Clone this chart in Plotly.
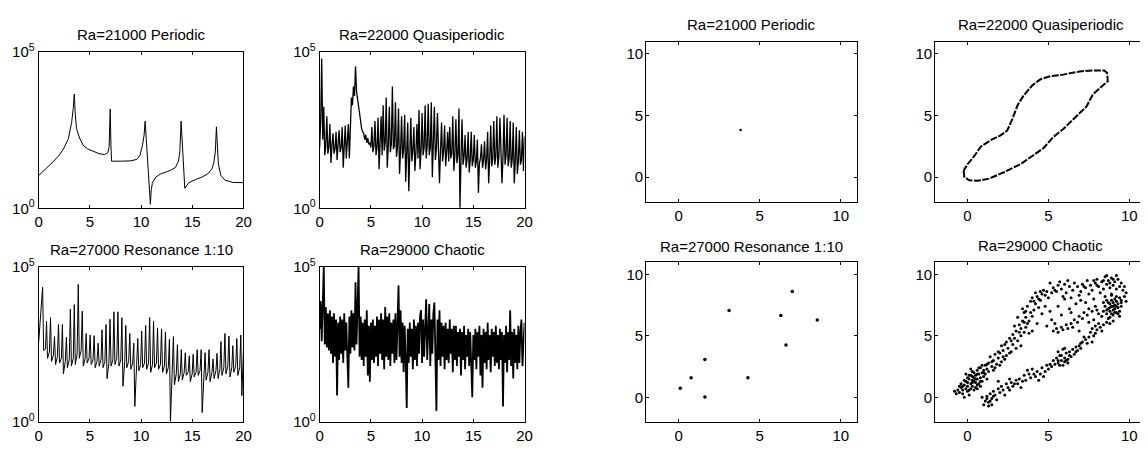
import numpy as np
import plotly.graph_objects as go

W, H = 1148, 452
FONT = "Liberation Sans, Arial, Helvetica, sans-serif"

titles = ["Ra=21000 Periodic", "Ra=22000 Quasiperiodic",
          "Ra=27000 Resonance 1:10", "Ra=29000 Chaotic"]

# ---------------- spectra (log10 of power) ----------------
p1_f = [0, 0.5, 1.0, 1.45, 2.0, 2.42, 2.9, 3.22, 3.38, 3.48, 3.58, 3.70, 4.0, 4.35, 4.8,
        5.31, 5.9, 6.44, 6.75, 6.88, 6.99, 7.06, 7.12, 8.0, 9.0, 9.6, 9.9, 10.14, 10.3, 10.4,
        10.91, 11.0, 11.1, 11.43, 11.9, 12.4, 12.9, 13.36, 13.65, 13.79, 13.91, 14.27, 14.45,
        14.65, 15.3, 15.94, 16.5, 16.9, 17.1, 17.25, 17.36, 17.45, 17.55, 17.8, 18.2, 19.0, 20.0]
p1_log = [1.05, 1.2, 1.35, 1.5, 1.7, 1.9, 2.23, 2.75, 3.2, 3.66, 3.0, 2.55, 2.25, 2.02, 1.9,
          1.82, 1.75, 1.72, 1.78, 1.95, 3.18, 2.0, 1.51, 1.51, 1.52, 1.57, 1.7, 2.02, 2.35, 2.79,
          0.13, 0.6, 0.8, 1.0, 1.1, 1.16, 1.22, 1.31, 1.5, 1.82, 2.79, 0.64, 0.72,
          0.82, 0.92, 1.0, 1.1, 1.25, 1.45, 1.8, 2.61, 1.9, 1.41, 1.05, 0.9, 0.83, 0.82]

p2_log = [
    1.95, 2.80, 4.80, 2.20, 3.25, 1.70, 2.00, 2.95, 1.75, 1.95,
    2.70, 1.45, 2.00, 2.40, 1.75, 1.90, 2.45, 1.55, 2.05, 2.50,
    1.80, 1.95, 2.60, 1.30, 2.00, 2.65, 1.60, 2.05, 2.70, 1.60,
    2.80, 3.55, 3.30, 3.90, 3.60, 4.55, 3.75, 3.50, 3.40, 3.00,
    2.80, 2.55, 2.45, 2.40, 2.20, 2.35, 2.10, 2.25, 2.05, 2.10,
    1.95, 2.60, 1.80, 2.00, 2.80, 1.70, 1.95, 2.90, 1.25, 1.90,
    2.95, 1.70, 3.30, 1.85, 2.10, 3.55, 1.30, 2.00, 3.25, 1.80,
    2.05, 3.90, 1.90, 2.00, 3.40, 1.65, 1.95, 3.20, 1.10, 1.85,
    2.95, 1.60, 1.90, 3.00, 0.85, 1.80, 2.75, 0.55, 1.75, 2.90,
    1.50, 1.85, 2.60, 1.20, 1.80, 2.70, 1.60, 3.15, 1.25, 1.85,
    3.05, 1.70, 1.95, 3.30, 1.60, 2.00, 3.35, 1.70, 1.95, 3.40,
    1.00, 1.85, 3.25, 1.55, 1.90, 3.05, 1.60, 0.80, 1.85, 2.75,
    1.50, 1.85, 2.65, 1.35, 1.80, 2.45, 1.50, 2.60, 1.60, 1.75,
    2.95, 1.20, 1.70, 2.85, 1.45, 1.70, 3.20, 0.02, 1.60, 2.85,
    1.40, 1.65, 2.35, 1.30, 1.60, 2.45, 1.15, 1.55, 2.45, 1.35,
    1.55, 2.35, 1.30, 1.50, 2.20, 0.50, 1.45, 1.60, 2.05, 1.30,
    1.55, 2.15, 1.25, 1.55, 2.45, 0.80, 1.55, 2.65, 1.35, 1.60,
    2.80, 1.40, 1.65, 2.95, 1.30, 1.65, 2.90, 1.45, 0.80, 1.65,
    3.00, 1.40, 1.70, 2.90, 1.35, 1.60, 2.80, 1.30, 1.55, 2.75,
    0.80, 1.55, 2.60, 1.10, 1.50, 2.50, 1.40, 1.55, 2.45, 1.20,
    2.30]

p3_start = [0.0, 2.55]
p3_peak_f = [0.39, 0.77, 1.16, 1.55, 1.94, 2.32, 2.71, 3.10, 3.48, 3.87, 4.26, 4.64, 5.03,
             5.42, 5.81, 6.19, 6.58, 6.97, 7.35, 7.74, 8.13, 8.51, 8.90, 9.29, 9.68, 10.06,
             10.45, 10.84, 11.22, 11.61, 12.00, 12.38, 12.77, 13.16, 13.55, 13.93, 14.32,
             14.71, 15.09, 15.48, 15.87, 16.25, 16.64, 17.03, 17.42, 17.80, 18.19, 18.58,
             18.96, 19.35, 19.74]
p3_peak = [4.34, 3.24, 3.36, 2.75, 3.14, 3.14, 2.73, 3.64, 3.78, 4.43, 3.57, 2.85, 2.80,
           2.78, 2.54, 2.97, 3.14, 3.31, 3.55, 3.55, 3.36, 3.11, 2.85, 2.54, 2.69, 2.93,
           3.11, 3.36, 3.24, 3.03, 3.00, 2.90, 2.66, 2.75, 2.49, 2.33, 2.23, 2.13, 2.18,
           2.33, 2.33, 2.23, 2.33, 2.03, 2.21, 2.59, 2.85, 2.77, 2.46, 2.69, 2.80]
p3_trough = [2.30, 2.05, 1.95, 1.85, 1.90, 1.55, 1.75, 1.80, 1.85, 2.05, 1.80, 1.90, 1.85,
             1.75, 1.80, 1.75, 1.40, 1.80, 1.85, 1.80, 1.15, 1.75, 1.70, 0.50, 1.65, 1.75,
             1.70, 1.60, 1.75, 1.70, 1.60, 1.55, 0.02, 1.20, 1.30, 1.35, 1.50, 1.30, 1.45,
             1.50, 0.30, 1.35, 1.30, 1.40, 1.40, 1.50, 1.55, 1.45, 1.60, 1.50, 0.85]
p3_base = [2.35, 2.25, 2.15, 2.10, 2.05, 1.95, 2.00, 2.05, 2.20, 2.30, 2.05, 2.05, 2.00,
           1.95, 2.00, 1.95, 1.90, 2.00, 2.05, 2.00, 1.95, 1.95, 1.90, 1.85, 1.85, 1.90,
           1.90, 1.85, 1.90, 1.85, 1.80, 1.75, 1.60, 1.55, 1.55, 1.60, 1.60, 1.55, 1.60,
           1.65, 1.55, 1.60, 1.60, 1.65, 1.70, 1.75, 1.80, 1.75, 1.80, 1.75, 2.50]

p4_log = [
    3.0, 3.9, 2.6, 3.8, 5.0, 2.5, 3.7, 2.4, 3.5, 2.3,
    3.6, 2.2, 3.4, 1.9, 3.5, 2.1, 3.3, 0.85, 3.2, 2.0,
    3.4, 2.2, 3.3, 1.9, 3.5, 2.3, 3.2, 2.1, 1.1, 3.4,
    2.2, 3.6, 2.4, 3.5, 2.3, 4.5, 2.5, 3.7, 5.0, 2.1,
    3.4, 2.0, 3.2, 1.8, 3.3, 2.1, 3.6, 1.5, 3.1, 1.3,
    3.2, 2.0, 3.3, 1.9, 3.1, 2.1, 3.4, 1.8, 3.3, 2.2,
    3.5, 2.0, 3.3, 1.7, 3.7, 2.1, 3.4, 2.0, 3.5, 1.8,
    3.2, 2.2, 3.3, 1.9, 3.5, 2.0, 3.4, 4.4, 2.1, 3.6,
    1.9, 3.2, 1.6, 3.1, 2.0, 0.45, 3.0, 1.9, 3.2, 2.1,
    3.0, 1.7, 3.3, 2.0, 3.1, 1.8, 3.2, 2.2, 3.4, 3.6,
    1.9, 3.3, 2.1, 3.5, 3.95, 2.0, 3.4, 3.8, 1.8, 3.3,
    2.2, 3.5, 3.85, 1.9, 0.35, 3.3, 2.0, 3.6, 1.8, 3.2,
    2.1, 3.1, 1.7, 3.2, 2.0, 3.0, 1.9, 3.3, 2.2, 3.0,
    1.6, 3.1, 2.0, 3.1, 1.8, 2.9, 2.1, 3.0, 1.5, 2.9,
    2.0, 3.1, 1.7, 2.8, 2.1, 3.0, 1.8, 2.9, 1.3, 0.8,
    2.8, 2.0, 3.0, 1.7, 2.9, 2.1, 3.1, 1.5, 2.8, 1.1,
    3.0, 1.9, 2.9, 1.7, 3.2, 2.0, 2.8, 1.6, 3.0, 2.1,
    2.9, 1.8, 3.1, 1.9, 2.8, 1.7, 3.0, 2.0, 2.9, 0.5,
    2.8, 1.9, 3.1, 1.6, 2.9, 2.0, 3.6, 1.8, 2.9, 1.4,
    3.0, 1.9, 2.8, 1.7, 3.1, 1.9, 2.9, 3.3, 1.8, 2.7,
    3.2]

# ---------------- Poincare sections ----------------
p5_x = [3.82]
p5_y = [3.82]

p6_x = [-0.24, -0.2, 0.11, 0.62, 1.34, 2.25, 3.27, 4.08, 4.69, 5.3, 5.92, 6.73, 7.35, 7.75,
        8.26, 8.67, 8.63, 8.46, 7.75, 6.93, 5.92, 5.1, 4.49, 3.98, 3.47, 3.1, 2.76, 2.45,
        2.04, 1.43, 0.82, 0.41, 0.0, -0.24]
p6_y = [0.52, 0.0, -0.26, -0.31, -0.13, 0.39, 1.04, 1.82, 2.34, 3.25, 3.9, 4.94, 5.72, 6.71,
        7.28, 7.8, 8.45, 8.66, 8.66, 8.58, 8.32, 8.19, 7.93, 7.41, 6.63, 5.85, 4.68, 3.77,
        3.38, 2.99, 2.47, 1.69, 1.04, 0.52]

p7_x = [0.1, 0.77, 1.62, 1.62, 3.11, 4.27, 6.3, 6.62, 7.01, 8.55]
p7_y = [0.73, 1.59, 3.07, 0.03, 7.05, 1.59, 6.65, 4.26, 8.6, 6.29]

p8_pts = [
    # lower-left cluster
    (-0.8, 0.5), (-0.6, 0.6), (-0.5, 0.4), (-0.4, 0.8), (-0.3, 0.6), (-0.2, 1.0), (-0.1, 0.7),
    (0.0, 1.2), (0.0, 0.9), (0.1, 1.5), (0.1, 0.6), (0.2, 1.1), (0.2, 1.8), (0.3, 1.4),
    (0.3, 0.9), (0.4, 1.6), (0.4, 2.0), (0.5, 1.2), (0.5, 1.8), (0.6, 1.5), (0.6, 2.2),
    (0.7, 1.9), (0.7, 1.1), (0.8, 1.6), (0.8, 2.4), (0.9, 2.0), (0.9, 1.3), (1.0, 2.2),
    (1.0, 1.7), (1.1, 2.6), (1.1, 1.9), (1.2, 2.3), (1.2, 1.5), (-0.2, 1.4), (0.0, 1.6),
    (0.3, 2.1), (0.5, 0.8), (-0.5, 0.9), (0.1, 0.2), (0.4, 1.3), (0.6, 1.0), (0.8, 0.9),
    (-0.1, 1.9), (0.2, 2.3), (0.9, 2.6), (-0.3, 0.3), (-0.2, 0.0),
    (-0.7, 0.3), (-0.4, 1.1), (-0.1, 1.3), (0.2, 0.7), (0.3, 1.7), (0.5, 1.5), (0.6, 1.9),
    (0.7, 2.4), (0.8, 1.3), (1.0, 2.0), (0.4, 0.6), (0.0, 0.5), (-0.3, 0.9), (0.6, 0.7),
    (1.3, 2.1), (1.2, 2.7), (0.1, 1.8), (0.3, 1.2),
    # upper arm
    (1.3, 2.8), (1.5, 2.5), (1.6, 3.0), (1.8, 2.7), (1.9, 3.2), (2.1, 2.9), (1.4, 3.3),
    (2.3, 3.1), (1.7, 3.5), (2.0, 3.6), (2.2, 3.8), (2.4, 3.4), (2.5, 4.0), (2.7, 3.7),
    (2.1, 4.2), (2.8, 4.3), (2.4, 4.5), (3.0, 4.0), (2.6, 4.8), (3.1, 4.6), (2.8, 5.1),
    (3.0, 5.4), (3.3, 5.0), (3.5, 5.3), (2.9, 5.8), (3.2, 5.9), (3.6, 5.7), (3.8, 5.2),
    (3.4, 6.2), (3.1, 6.5), (3.6, 6.5), (3.5, 6.9), (3.8, 6.2), (4.0, 6.6), (3.4, 7.2),
    (3.7, 7.4), (4.1, 7.1), (3.9, 7.8), (4.2, 7.6), (4.4, 7.3), (4.0, 8.1), (4.3, 8.2),
    (4.5, 7.9), (4.6, 8.4), (4.2, 8.5), (4.8, 8.3), (4.9, 8.6), (5.0, 8.1), (4.7, 8.7),
    (5.2, 8.5), (4.3, 6.0), (4.6, 6.8), (4.0, 5.4), (3.3, 4.2), (4.8, 7.4),
    (1.5, 2.9), (1.7, 2.4), (1.9, 3.7), (2.2, 3.3), (2.3, 4.3), (2.6, 3.6), (2.7, 4.6),
    (2.9, 4.8), (3.2, 5.3), (3.3, 5.6), (3.5, 6.1), (3.7, 6.0), (3.9, 6.9), (4.1, 7.8),
    (4.4, 8.0), (3.6, 7.0), (4.5, 8.6), (1.6, 2.2), (2.0, 2.6),
    # top band
    (5.3, 8.9), (5.5, 8.6), (5.6, 9.1), (5.8, 8.8), (6.0, 9.2), (6.1, 8.5), (6.3, 9.0),
    (6.5, 8.7), (6.6, 9.3), (6.8, 9.0), (7.0, 8.6), (7.1, 9.2), (7.3, 8.9), (7.4, 9.5),
    (7.6, 9.1), (7.7, 8.7), (7.9, 9.3), (8.0, 9.6), (8.1, 9.0), (8.3, 9.4), (8.4, 8.8),
    (8.5, 9.8), (8.6, 9.2), (8.7, 9.5), (8.8, 8.9), (8.9, 9.7), (9.0, 9.1), (9.1, 9.4),
    (9.2, 8.8), (9.3, 9.6), (9.4, 9.0), (9.5, 9.3), (9.6, 8.7), (9.7, 9.0), (9.8, 8.5),
    (9.7, 8.2), (9.5, 7.9), (9.8, 7.8), (6.9, 8.3), (7.5, 8.4), (8.2, 8.5), (8.9, 8.4),
    (5.9, 8.2), (6.4, 8.1), (7.8, 8.0), (5.1, 9.3), (5.7, 9.4), (6.2, 9.5), (8.6, 9.9),
    (9.2, 9.9),
    (5.4, 8.7), (7.2, 9.0), (8.0, 9.1), (8.8, 9.3), (9.0, 9.6), (8.4, 9.5), (7.8, 9.5),
    # right cluster
    (8.4, 7.0), (8.5, 7.4), (8.6, 6.8), (8.7, 7.2), (8.7, 7.7), (8.8, 7.0), (8.8, 6.5),
    (8.9, 7.4), (8.9, 7.9), (9.0, 7.1), (9.0, 6.7), (9.1, 7.5), (9.1, 7.2), (9.2, 7.8),
    (9.2, 6.9), (9.3, 7.3), (9.3, 7.6), (9.4, 7.0), (9.4, 8.1), (9.5, 7.4), (8.6, 7.9),
    (8.5, 8.2), (8.9, 8.3), (9.2, 8.2), (8.3, 6.6), (8.7, 6.4), (9.0, 6.2), (9.4, 6.6),
    (9.5, 7.7), (8.4, 7.7), (9.1, 8.0), (8.8, 7.6), (9.3, 6.8), (9.0, 7.7),
    (8.6, 7.1), (8.9, 6.8), (9.1, 6.9), (9.2, 7.4), (8.8, 7.3), (9.0, 7.4),
    # lower arm
    (8.6, 6.1), (8.4, 5.9), (8.8, 6.0), (8.2, 5.7), (8.0, 5.5), (8.3, 5.4), (7.9, 5.2),
    (7.7, 5.6), (7.8, 5.0), (7.5, 4.9), (7.6, 5.3), (7.3, 4.7), (7.4, 4.4), (7.1, 4.5),
    (7.2, 4.9), (6.9, 4.2), (7.0, 4.0), (6.7, 4.1), (6.8, 3.8), (6.5, 3.9), (6.6, 3.5),
    (6.3, 3.7), (6.4, 3.3), (6.2, 3.1), (6.1, 3.6), (6.0, 3.2), (5.9, 3.9), (5.8, 3.0),
    (5.7, 3.4), (5.6, 2.8), (5.5, 3.2), (5.4, 2.7), (6.2, 2.8), (5.9, 2.6), (5.3, 3.0),
    (5.2, 2.5), (5.0, 2.3), (4.9, 2.6), (4.8, 2.1), (4.6, 2.4), (4.5, 1.9), (4.3, 2.1),
    (4.2, 1.7), (4.0, 2.3), (3.9, 1.6), (3.8, 1.9), (3.6, 1.4), (3.5, 1.8), (3.4, 1.3),
    (3.2, 1.5), (3.1, 1.1), (3.0, 1.4), (2.8, 0.9), (2.7, 1.2), (2.5, 0.8), (2.4, 1.1),
    (2.2, 0.6), (2.1, 0.9), (2.0, 0.4), (1.9, 0.7), (1.7, 0.2), (1.6, 0.5), (1.5, -0.1),
    (1.4, 0.3), (1.3, -0.4), (1.2, 0.1), (1.1, -0.3), (1.0, -0.6), (1.5, -0.6), (1.3, -0.7),
    (0.9, 0.0), (1.8, -0.2), (2.3, 0.2), (3.3, 0.8), (4.4, 1.4), (4.7, 1.7), (3.7, 2.2),
    (2.6, 1.5), (1.9, 1.3), (6.0, 4.0), (5.6, 3.7), (7.7, 4.5),
    (6.1, 3.0), (5.8, 3.4), (6.3, 3.4), (5.6, 3.0), (6.0, 2.9), (5.7, 2.6), (1.2, -0.1),
    (1.4, -0.3), (1.6, 0.1), (2.6, 0.6), (2.9, 1.1), (4.1, 1.9), (5.1, 2.7), (7.9, 5.8),
    (8.1, 6.0), (6.7, 3.7), (7.0, 4.4),
    # inner branch and interior scatter
    (5.3, 5.4), (5.5, 5.6), (5.6, 5.3), (5.8, 5.7), (5.9, 5.5), (6.1, 5.9), (6.2, 5.6),
    (6.4, 6.0), (6.5, 5.7), (6.6, 6.3), (6.8, 6.1), (6.9, 6.6), (7.1, 6.4), (7.2, 6.9),
    (7.4, 6.7), (7.5, 7.2), (7.7, 7.0), (7.9, 7.4), (8.0, 7.1), (8.1, 6.8), (5.2, 6.3),
    (5.8, 6.7), (6.3, 7.2), (6.7, 7.6), (7.0, 7.9), (6.0, 8.0), (5.6, 7.4), (7.3, 7.7),
    (6.9, 5.4), (7.5, 6.1), (4.9, 5.8), (5.1, 7.0), (6.4, 6.9), (7.8, 6.3), (5.4, 6.0),
]
p8_x = [p[0] for p in p8_pts]
p8_y = [p[1] for p in p8_pts]

spec_ticks = [0, 5, 10, 15, 20]
map_ticks = [0, 5, 10]

# ---------------- build figure ----------------
fig = go.Figure()
line = dict(color="black", width=1)

fig.add_trace(go.Scatter(x=p1_f, y=10 ** np.array(p1_log), mode="lines", line=line,
                         xaxis="x", yaxis="y"))
fig.add_trace(go.Scatter(x=np.linspace(0, 20, len(p2_log)), y=10 ** np.array(p2_log),
                         mode="lines", line=dict(color="black", width=1.3),
                         xaxis="x2", yaxis="y2"))
p3x, p3y = [p3_start[0]], [p3_start[1]]
for f, a, b, c in zip(p3_peak_f, p3_peak, p3_trough, p3_base):
    p3x += [f, f + 0.1, f + 0.28]
    p3y += [a, b, c]
fig.add_trace(go.Scatter(x=p3x, y=10 ** np.array(p3y), mode="lines", line=line,
                         xaxis="x3", yaxis="y3"))
fig.add_trace(go.Scatter(x=np.linspace(0, 20, len(p4_log)), y=10 ** np.array(p4_log),
                         mode="lines", line=dict(color="black", width=1.8),
                         xaxis="x4", yaxis="y4"))

fig.add_trace(go.Scatter(x=p5_x, y=p5_y, mode="markers",
                         marker=dict(color="black", size=2.5), xaxis="x5", yaxis="y5"))
fig.add_trace(go.Scatter(x=p6_x, y=p6_y, mode="lines",
                         line=dict(color="black", width=2, dash="7px,1.5px"),
                         xaxis="x6", yaxis="y6"))
fig.add_trace(go.Scatter(x=p7_x, y=p7_y, mode="markers",
                         marker=dict(color="black", size=3.5), xaxis="x7", yaxis="y7"))
fig.add_trace(go.Scatter(x=p8_x, y=p8_y, mode="markers",
                         marker=dict(color="black", size=3), xaxis="x8", yaxis="y8"))

tickfont = dict(family=FONT, size=15, color="black")
base_ax = dict(showline=True, linecolor="black", linewidth=1, mirror="ticks",
               ticks="inside", ticklen=3, tickcolor="black", tickwidth=1,
               showgrid=False, zeroline=False, tickfont=tickfont)

# pixel boxes of the eight axes (left, right, top, bottom)
boxes = [(35, 242, 43, 206), (319, 526, 43, 206), (35, 242, 267, 429), (319, 526, 267, 429),
         (649, 862, 32, 199), (941, W, 32, 199), (649, 862, 262, 429), (941, W, 262, 429)]

layout = dict(width=W, height=H, margin=dict(l=0, r=0, t=0, b=0),
              paper_bgcolor="white", plot_bgcolor="white", showlegend=False,
              font=dict(family=FONT, color="black"))

for i, (l, r, t, b) in enumerate(boxes):
    n = "" if i == 0 else str(i + 1)
    xa = dict(base_ax, domain=[l / W, r / W], anchor="y" + n)
    ya = dict(base_ax, domain=[1 - b / H, 1 - t / H], anchor="x" + n)
    if i < 4:
        xa.update(range=[0, 20], tickvals=spec_ticks)
        ya.update(type="log", range=[0, 5], tickvals=[1, 1e5],
                  ticktext=["10<sup>0</sup>", "10<sup>5</sup>"])
    else:
        right = 11 if r < W else -2 + (W - l) / 16.35
        xa.update(range=[-2, right], tickvals=map_ticks)
        ya.update(range=[-2, 11], tickvals=map_ticks, ticklabelstandoff=-1)
        if r >= W:
            ya.update(mirror=False)
    layout["xaxis" + n] = xa
    layout["yaxis" + n] = ya

title_pos = [(138.5, 25), (422.5, 25), (138.5, 249), (422.5, 249),
             (755.5, 14.5), (1047.5, 14.5), (755.5, 245.5), (1047.5, 245)]
annotations = []
for k, (cx, cy) in enumerate(title_pos):
    annotations.append(dict(text=titles[k % 4], x=cx / W, y=1 - cy / H, xref="paper",
                            yref="paper", xanchor="center", yanchor="middle",
                            showarrow=False, font=dict(family=FONT, size=15, color="black")))
layout["annotations"] = annotations

fig.update_layout(**layout)
fig.write_html("out.html", config={"displayModeBar": False},
               post_script="document.body.style.margin='0';"
                           "document.body.style.overflow='hidden';")
